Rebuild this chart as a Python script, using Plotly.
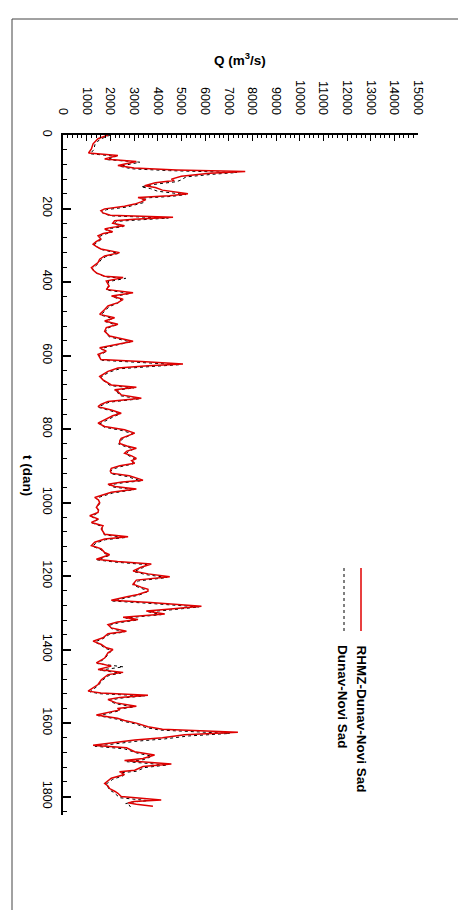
import plotly.graph_objects as go

# Observed series: RHMZ-Dunav-Novi Sad (t in days, Q in m3/s)
t_obs = [0, 5, 10, 24, 38, 49, 56, 65, 72, 83, 90, 95, 99, 104, 112, 120, 124, 130, 138, 143,
         150, 160, 165, 170, 176, 182, 188, 194, 201, 206, 212, 218, 224, 229, 233, 240, 247, 252, 256, 263,
         268, 274, 283, 290, 297, 303, 310, 320, 329, 338, 347, 356, 361, 368, 375, 384, 388, 397, 404, 411,
         420, 429, 438, 447, 456, 465, 475, 488, 497, 506, 515, 524, 534, 547, 561, 570, 579, 588, 597, 605,
         611, 617, 623, 628, 634, 643, 657, 666, 680, 686, 693, 698, 707, 716, 725, 733, 739, 748, 757, 764,
         771, 784, 793, 802, 811, 818, 825, 832, 839, 846, 852, 860, 866, 873, 880, 886, 893, 900, 907, 914,
         920, 927, 934, 939, 944, 950, 956, 963, 972, 979, 986, 993, 1000, 1006, 1013, 1020, 1027, 1036, 1045, 1054,
         1063, 1072, 1080, 1086, 1093, 1099, 1108, 1117, 1126, 1136, 1142, 1150, 1154, 1160, 1167, 1176, 1186, 1194, 1202, 1211,
         1222, 1230, 1236, 1241, 1250, 1256, 1266, 1272, 1278, 1282, 1291, 1295, 1303, 1312, 1318, 1325, 1332, 1341, 1350, 1357,
         1368, 1377, 1386, 1395, 1400, 1409, 1423, 1436, 1445, 1454, 1462, 1468, 1482, 1495, 1513, 1518, 1524, 1530, 1536, 1545,
         1554, 1560, 1564, 1578, 1587, 1593, 1600, 1610, 1617, 1625, 1632, 1640, 1646, 1653, 1660, 1667, 1678, 1687, 1696, 1702,
         1711, 1718, 1728, 1732, 1740, 1750, 1758, 1764, 1771, 1778, 1786, 1791, 1800, 1809, 1813, 1817, 1821, 1826]
q_obs = [1900, 1700, 1480, 1270, 1200, 1080, 2320, 1760, 3100, 2320, 3000, 4800, 7700, 6200, 5000, 4580, 4700, 3900, 3450, 3900,
         4200, 5280, 4500, 3170, 3500, 3300, 3030, 2600, 1760, 1600, 1690, 2000, 4650, 3000, 2180, 2100, 2600, 2000, 1760, 2100,
         1700, 1480, 1600, 1400, 1270, 1400, 1600, 2390, 1760, 1550, 1480, 1300, 1200, 1280, 1410, 1760, 2540, 1830, 1900, 1950,
         1830, 2960, 2050, 2540, 2320, 1900, 1760, 1550, 2180, 1760, 2320, 1830, 1760, 1970, 2960, 2180, 1550, 1830, 1480, 1550,
         1600, 3500, 5070, 3600, 2320, 1900, 1550, 1690, 2040, 3100, 2180, 2320, 2460, 3310, 1900, 1600, 1480, 2040, 2460, 2100,
         1900, 1480, 1760, 2600, 3030, 2700, 2460, 2400, 2390, 2700, 3100, 2700, 2600, 2900, 3100, 2900, 3030, 2400, 2040, 2000,
         2040, 2800, 3100, 3380, 2500, 1900, 2200, 3100, 2040, 1700, 1340, 1500, 1550, 1480, 1410, 1500, 1480, 1130, 1500, 1200,
         1690, 1620, 1690, 1760, 2750, 1760, 1340, 1200, 1620, 1760, 1970, 1600, 1410, 2300, 3730, 3300, 2960, 3600, 4510, 3100,
         2960, 3300, 3590, 3590, 3170, 2700, 2040, 3700, 5200, 5850, 4300, 3520, 4300, 2540, 3170, 2300, 1900, 2040, 2680, 1900,
         1690, 1270, 1620, 1830, 2110, 1900, 1760, 1410, 2040, 1480, 2540, 1900, 1620, 1480, 1060, 1600, 3590, 2400, 1900, 2250,
         3100, 2300, 2400, 1410, 2300, 2600, 3100, 3590, 4200, 7390, 5140, 4200, 3030, 2000, 1270, 2680, 3030, 3870, 3380, 2600,
         4580, 3380, 3030, 2390, 2600, 2040, 1900, 1760, 1900, 1970, 2200, 2320, 2460, 4150, 3000, 2750, 3100, 3800]

# Modelled series: Dunav-Novi Sad
t_sim = [0, 6, 12, 26, 40, 51, 58, 67, 74, 85, 92, 97, 102, 107, 114, 122, 127, 133, 141, 146,
         153, 162, 167, 172, 178, 184, 190, 196, 203, 208, 214, 220, 226, 231, 235, 242, 249, 254, 258, 265,
         270, 276, 285, 292, 299, 305, 312, 322, 331, 340, 349, 358, 363, 370, 377, 386, 390, 399, 406, 413,
         422, 431, 440, 449, 458, 467, 477, 490, 499, 508, 517, 526, 536, 549, 563, 572, 581, 590, 599, 607,
         613, 619, 625, 630, 636, 645, 659, 668, 682, 688, 695, 700, 709, 718, 727, 735, 741, 750, 759, 766,
         773, 786, 795, 804, 813, 820, 827, 834, 841, 848, 854, 862, 868, 875, 882, 888, 895, 902, 909, 916,
         922, 929, 936, 941, 946, 952, 958, 965, 974, 981, 988, 995, 1002, 1008, 1015, 1022, 1029, 1038, 1047, 1056,
         1065, 1074, 1082, 1088, 1095, 1101, 1110, 1119, 1128, 1138, 1144, 1152, 1156, 1162, 1169, 1178, 1188, 1196, 1204, 1213,
         1224, 1232, 1238, 1243, 1252, 1258, 1268, 1274, 1280, 1284, 1293, 1297, 1305, 1314, 1320, 1327, 1334, 1343, 1352, 1359,
         1370, 1379, 1388, 1397, 1402, 1411, 1425, 1438, 1447, 1456, 1464, 1470, 1484, 1497, 1515, 1520, 1526, 1532, 1538, 1547,
         1556, 1562, 1566, 1580, 1589, 1595, 1602, 1612, 1619, 1628, 1635, 1643, 1649, 1656, 1663, 1670, 1681, 1690, 1699, 1705,
         1714, 1721, 1731, 1735, 1743, 1753, 1761, 1767, 1774, 1781, 1789, 1794, 1803, 1811, 1815, 1819, 1823, 1828]
q_sim = [2000, 1800, 1550, 1350, 1300, 1150, 2250, 1850, 3250, 2400, 2900, 4500, 7350, 6300, 5200, 5000, 4800, 4000, 3300, 3700,
         4000, 5200, 4600, 3300, 3450, 3400, 3100, 2700, 1850, 1650, 1700, 2050, 4450, 3150, 2250, 2150, 2550, 2050, 1800, 2050,
         1750, 1550, 1600, 1450, 1300, 1450, 1650, 2350, 1800, 1600, 1500, 1350, 1250, 1300, 1450, 1800, 2650, 1900, 1950, 1900,
         1850, 2850, 2100, 2500, 2300, 1950, 1800, 1600, 2100, 1800, 2250, 1850, 1800, 1950, 2850, 2200, 1600, 1800, 1550, 1550,
         1650, 3300, 4900, 3700, 2400, 1950, 1600, 1700, 2000, 3000, 2200, 2300, 2400, 3200, 1950, 1650, 1500, 2000, 2400, 2150,
         1950, 1550, 1750, 2500, 2950, 2750, 2500, 2450, 2350, 2650, 3000, 2750, 2650, 2850, 3050, 2950, 2950, 2450, 2100, 2000,
         2050, 2700, 3000, 3300, 2550, 1950, 2150, 3000, 2100, 1750, 1400, 1500, 1550, 1500, 1450, 1500, 1450, 1200, 1450, 1250,
         1650, 1650, 1700, 1750, 2650, 1800, 1400, 1250, 1600, 1750, 1950, 1650, 1450, 2200, 3550, 3350, 3000, 3500, 4400, 3200,
         2950, 3250, 3500, 3550, 3200, 2750, 2100, 3600, 5000, 5750, 4400, 3600, 4150, 2650, 3100, 2350, 1950, 2050, 2600, 1950,
         1700, 1350, 1600, 1800, 2050, 1950, 1750, 1450, 2550, 1550, 2450, 1950, 1650, 1500, 1150, 1550, 3450, 2450, 1950, 2200,
         3000, 2350, 2400, 1500, 2250, 2550, 3050, 3500, 4100, 7050, 5300, 4300, 3150, 2100, 1350, 2600, 3100, 3750, 3450, 2700,
         4400, 3450, 3100, 2450, 2550, 2100, 1950, 1800, 1900, 1950, 2150, 2250, 2400, 3600, 2900, 2650, 2800, 2850]

# Axis ticks
t_ticks = [0, 200, 400, 600, 800, 1000, 1200, 1400, 1600, 1800]
q_ticks = [0, 1000, 2000, 3000, 4000, 5000, 6000, 7000, 8000, 9000, 10000, 11000, 12000, 13000, 14000, 15000]

FONT = "Liberation Sans, Arial, sans-serif"

fig = go.Figure()
fig.add_trace(go.Scatter(x=q_sim, y=t_sim, mode="lines",
                         line=dict(color="black", width=1, dash="dot"),
                         name="Dunav-Novi Sad", showlegend=False))
fig.add_trace(go.Scatter(x=q_obs, y=t_obs, mode="lines",
                         line=dict(color="#e00000", width=1.5),
                         name="RHMZ-Dunav-Novi Sad", showlegend=False))

# plot area in pixels: x 55..410, y 127..807
L, R, T, B = 55, 56, 127, 103
W, H = 466, 910
pw, ph = W - L - R, H - T - B

def px(x):
    return (x - L) / pw

def py(y):
    return (H - B - y) / ph

fig.update_layout(
    width=W, height=H,
    margin=dict(l=L, r=R, t=T, b=B),
    paper_bgcolor="white", plot_bgcolor="white",
    font=dict(family=FONT, size=12.5, color="black"),
    showlegend=False,
    xaxis=dict(
        side="top", range=[0, 15000], tickvals=q_ticks, ticktext=[str(v) for v in q_ticks],
        tickangle=90, ticks="inside", ticklen=6, tickwidth=1, tickcolor="black",
        minor=dict(dtick=200, ticks="inside", ticklen=3, tickwidth=1, tickcolor="black"),
        showline=True, linecolor="black", linewidth=1.5, mirror=False,
        showgrid=False, zeroline=False, ticklabelstandoff=14,
        tickfont=dict(size=12.5),
    ),
    yaxis=dict(
        range=[1850, 0], tickvals=t_ticks, ticktext=[str(v) for v in t_ticks],
        tickangle=90, ticks="inside", ticklen=8, tickwidth=2, tickcolor="black",
        minor=dict(dtick=40, ticks="inside", ticklen=4, tickwidth=1, tickcolor="black"),
        showline=True, linecolor="black", linewidth=2, mirror=False,
        showgrid=False, zeroline=False, ticklabelstandoff=3,
        tickfont=dict(size=12.5),
    ),
)

shapes = [
    # outer frame
    dict(type="rect", xref="paper", yref="paper", x0=px(4), x1=px(463), y0=py(909), y1=py(11),
         line=dict(color="#444444", width=1), fillcolor="rgba(0,0,0,0)", layer="below"),
    # legend samples
    dict(type="line", xref="paper", yref="paper", x0=px(353), x1=px(353), y0=py(560), y1=py(623),
         line=dict(color="#e00000", width=1.5)),
    dict(type="line", xref="paper", yref="paper", x0=px(336), x1=px(336), y0=py(560), y1=py(623),
         line=dict(color="black", width=1, dash="dot")),
]
fig.update_layout(shapes=shapes)

annotations = [
    dict(text="<b>Q (m<sup>3</sup>/s)</b>", xref="paper", yref="paper", x=px(232), y=py(51),
         xanchor="center", yanchor="middle", showarrow=False, font=dict(size=13.5)),
    dict(text="<b>t (dan)</b>", xref="paper", yref="paper", x=px(20), y=py(467),
         xanchor="center", yanchor="middle", textangle=90, showarrow=False, font=dict(size=13.5)),
    dict(text="<b>RHMZ-Dunav-Novi Sad</b>", xref="paper", yref="paper", x=px(353), y=py(635),
         xanchor="center", yanchor="top", textangle=90, showarrow=False, font=dict(size=13.5)),
    dict(text="<b>Dunav-Novi Sad</b>", xref="paper", yref="paper", x=px(335), y=py(635),
         xanchor="center", yanchor="top", textangle=90, showarrow=False, font=dict(size=13.5)),
]
fig.update_layout(annotations=annotations)

fig.write_html("out.html")
